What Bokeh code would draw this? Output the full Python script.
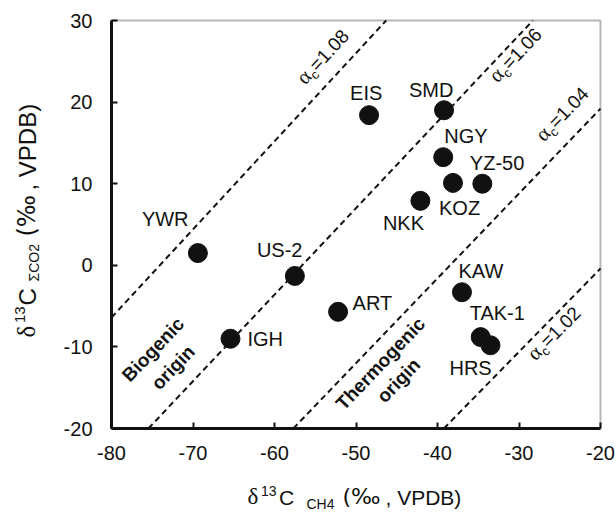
import math
from bokeh.plotting import figure
from bokeh.models import Label, FixedTicker, ColumnDataSource, BoxAnnotation
from bokeh.core.properties import value
from bokeh.embed import file_html
from bokeh.resources import INLINE

# ---------------- data ----------------
names = ["YWR", "US-2", "IGH", "ART", "EIS", "SMD", "NGY", "KOZ", "YZ-50",
         "NKK", "KAW", "TAK-1", "HRS"]
d13c_ch4 = [-69.4, -57.5, -65.4, -52.2, -48.4, -39.2, -39.3, -38.1, -34.5,
            -42.1, -37.0, -34.7, -33.5]
d13c_co2 = [1.5, -1.3, -9.0, -5.7, 18.4, 19.0, 13.25, 10.1, 10.0,
            7.9, -3.3, -8.8, -9.8]
# label offsets from marker (screen px, y down) to text baseline-left
label_dx = [-56, -38, 17, 14.5, -19, -35, 1, -14, -12.5, -37.5, -3.5, -11, -41]
label_dy = [-27, -19, 7.4, -1.7, -15, -13.3, -14, 32.3, -13.3, 29.3, -14.4, -17.4, 29.3]

alpha_c = [1.08, 1.06, 1.04, 1.02]
alpha_text = ["=1.08", "=1.06", "=1.04", "=1.02"]
alpha_label_at = [-54.85, -34.2, -25.4, -29.6]   # d13C-CH4 where label sits
alpha_label_side = [15, -18, 17, -19]            # px perpendicular offset

x_ticks = [-80, -70, -60, -50, -40, -30, -20]
y_ticks = [-20, -10, 0, 10, 20, 30]
x_tick_labels = ["-80", "-70", "-60", "-50", "-40", "-30", "-20"]
y_tick_labels = ["-20", "-10", "0", "10", "20", "30"]
x_lim = (-80, -20)
y_lim = (-20, 30)

# ---------------- layout ----------------
W, H = 616, 513
BOX_L, BOX_R, BOX_T, BOX_B = 111, 600, 20, 428      # plot box in page px
SX = (BOX_R - BOX_L) / (x_lim[1] - x_lim[0])
SY = (BOX_B - BOX_T) / (y_lim[1] - y_lim[0])
xr = (x_lim[0] - BOX_L / SX, x_lim[1] + (W - BOX_R) / SX)
yr = (y_lim[0] - (H - BOX_B) / SY, y_lim[1] + BOX_T / SY)

SANS = "Liberation Sans"
SANS2 = "DejaVu Sans"
SERIF = "Liberation Serif"
INK = "#111111"
MID = 0.35   # em distance from alphabetic baseline to "middle"


def px_to_data(px, py):
    return (x_lim[0] + (px - BOX_L) / SX, y_lim[1] - (py - BOX_T) / SY)


p = figure(width=W, height=H, x_range=xr, y_range=yr,
           output_backend="svg", toolbar_location=None,
           min_border_left=0, min_border_right=0,
           min_border_top=0, min_border_bottom=0)
p.grid.visible = False
p.background_fill_color = "white"
p.border_fill_color = "white"
p.outline_line_color = None

# plot box (top / right edges)
p.add_layout(BoxAnnotation(left=x_lim[0], right=x_lim[1], bottom=y_lim[0],
                           top=y_lim[1], fill_alpha=0, line_color=INK,
                           line_width=2, level="underlay"))

p.xaxis.ticker = FixedTicker(ticks=x_ticks)
p.yaxis.ticker = FixedTicker(ticks=y_ticks)
p.xaxis.major_label_overrides = dict(zip(x_ticks, x_tick_labels))
p.yaxis.major_label_overrides = dict(zip(y_ticks, y_tick_labels))
p.xaxis.fixed_location = y_lim[0]
p.yaxis.fixed_location = x_lim[0]
p.xaxis.bounds = x_lim
p.yaxis.bounds = y_lim
for ax in (p.xaxis[0], p.yaxis[0]):
    ax.axis_line_width = 3
    ax.axis_line_color = INK
    ax.major_tick_in = 6
    ax.major_tick_out = 0
    ax.major_tick_line_width = 2
    ax.major_tick_line_color = INK
    ax.minor_tick_line_color = None
    ax.major_label_text_font = SANS
    ax.major_label_text_font_size = "20px"
    ax.major_label_text_color = INK
p.xaxis.major_label_standoff = 17
p.yaxis.major_label_standoff = 19

# alpha_c lines, clipped to the plot box
for a in alpha_c:
    x0 = max(x_lim[0], (1000 + y_lim[0]) / a - 1000)
    x1 = min(x_lim[1], (1000 + y_lim[1]) / a - 1000)
    xs = [x0, x1]
    ys = [a * (x + 1000) - 1000 for x in xs]
    p.line(xs, ys, line_color=INK, line_width=2, line_dash="6 4")

# points
src = ColumnDataSource(dict(x=d13c_ch4, y=d13c_co2, name=names))
p.scatter("x", "y", source=src, size=19, fill_color=INK, line_color=INK)

# point labels (anchor at text middle)
LFS = 20
lx = [x + dx / SX for x, dx in zip(d13c_ch4, label_dx)]
ly = [y - (dy - MID * LFS) / SY for y, dy in zip(d13c_co2, label_dy)]
lsrc = ColumnDataSource(dict(x=lx, y=ly, t=names))
p.text("x", "y", text="t", source=lsrc, text_font=value(SANS),
       text_font_size=f"{LFS}px", text_color=INK, text_align="left",
       text_baseline="middle")


def place(x0, y0, along, perp, th):
    dxp = along * math.cos(th) - perp * math.sin(th)
    dyp = along * math.sin(th) + perp * math.cos(th)
    return x0 + dxp / SX, y0 + dyp / SY


def add_text(s, font, fs, x, y, th=0.0, bold=False):
    """(x, y): data position of the alphabetic baseline start"""
    tx, ty = place(x, y, 0, MID * fs, th)
    p.add_layout(Label(x=tx, y=ty, text=s, text_font=font,
                       text_font_size=f"{fs}px", text_color=INK, angle=th,
                       text_align="left", text_baseline="middle",
                       text_font_style="bold" if bold else "normal"))


# alpha_c labels
for a, txt, at, side in zip(alpha_c, alpha_text, alpha_label_at, alpha_label_side):
    th = math.atan(a * SY / SX)
    x0 = at
    y0 = a * (x0 + 1000) - 1000
    bx, by = place(x0, y0, 0, side, th)
    parts = [("α", SERIF, 21, 0, 0), ("c", SANS, 13, 11, -4),
             (txt, SANS, 19, 18, 0)]
    for s, f, fs, al, pe in parts:
        tx, ty = place(bx, by, al, pe, th)
        add_text(s, f, fs, tx, ty, th)

# origin labels (centred)
th45 = math.atan(1.05 * SY / SX)
for s, (cx, cy) in [("Biogenic", (152.5, 349)), ("origin", (172.5, 367)),
                    ("Thermogenic", (380, 363)), ("origin", (398, 380))]:
    tx, ty = px_to_data(cx, cy)
    p.add_layout(Label(x=tx, y=ty, text=s, text_font=SANS, text_font_size="19px",
                       text_font_style="bold", text_color=INK, angle=th45,
                       text_align="center", text_baseline="middle"))

# x axis title pieces (baseline-left in page px)
for s, f, fs, (px, py) in [("δ", SERIF, 23, (247, 504)),
                           ("13", SANS, 14, (260.5, 495)),
                           ("C", SANS, 21, (278.5, 504)),
                           ("CH4", SANS, 14, (306, 508)),
                           ("(‰", SANS2, 22, (342, 504)),
                           (", VPDB)", SANS, 21, (385, 504))]:
    tx, ty = px_to_data(px, py)
    add_text(s, f, fs, tx, ty)

# y axis title pieces (rotated; baseline-left in page px)
for s, f, fs, (px, py) in [("δ", SERIF, 25, (35, 337)),
                           ("13", SANS, 15, (25, 322.5)),
                           ("C", SANS, 24, (35, 305)),
                           ("ΣCO2", SANS, 14, (38, 281)),
                           ("(‰", SANS2, 24, (35, 236)),
                           (", VPDB)", SANS, 24, (35, 190))]:
    tx, ty = px_to_data(px, py)
    add_text(s, f, fs, tx, ty, math.pi / 2)

open("out.html", "w").write(file_html(p, INLINE))
